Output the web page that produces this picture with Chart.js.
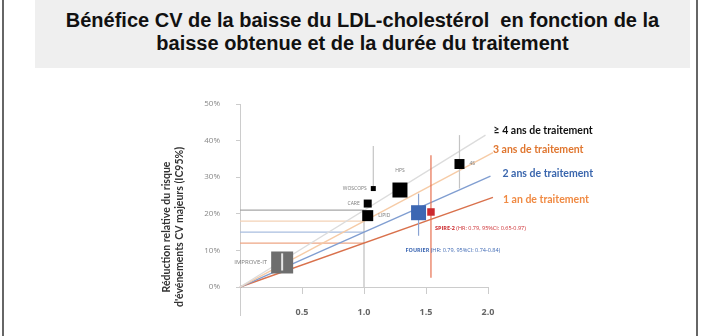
<!DOCTYPE html>
<html lang="fr">
<head>
<meta charset="UTF-8">
<title>Bénéfice CV de la baisse du LDL-cholestérol</title>
<script src="https://cdn.jsdelivr.net/npm/chart.js"></script>
<style>
  html, body { margin: 0; padding: 0; background: #fff; }
  #wrap { position: relative; width: 702px; height: 336px; overflow: hidden; }
  #frame { position: absolute; left: 2px; top: 0; width: 696px; height: 336px;
           border-left: 2px solid #666; border-right: 2px solid #666; box-sizing: border-box; }
  #title { position: absolute; left: 35px; top: 0; width: 655px; height: 68px; background: #efefef;
           font: bold 20px "Liberation Sans", Arial, sans-serif; color: #111; text-align: center;
           line-height: 23px; padding-top: 9px; box-sizing: border-box; white-space: pre; }
  #chart { position: absolute; left: 0; top: 0; }
</style>
</head>
<body>
<div id="wrap">
  <div id="frame"></div>
  <div id="title">Bénéfice CV de la baisse du LDL-cholestérol  en fonction de la
baisse obtenue et de la durée du traitement</div>
  <canvas id="chart" width="702" height="336"></canvas>
</div>

<script>
// durées de traitement : droites partant de l'origine
const durations = ['≥ 4 ans de traitement', '3 ans de traitement', '2 ans de traitement', '1 an de traitement'];
const lineEndX = [1.98, 2.04, 2.02, 2.04];
const lineEndY = [41.5, 36.7, 30.3, 24.5];
const benefitAt1 = [21, 18, 15, 12];   // réduction (%) pour une baisse de 1.0

// essais
const trials = ['IMPROVE-IT', 'WOSCOPS', 'CARE', 'LIPID', 'HPS', '4S', 'FOURIER', 'SPIRE-2'];
const trialX = [0.34, 1.075, 1.03, 1.03, 1.29, 1.77, 1.44, 1.54];
const trialY = [6.7, 26.9, 22.8, 19.5, 26.5, 33.6, 20.3, 20.5];
const ciHigh = [9.2, 38.5, null, null, null, 41.5, 25.5, 36];
const ciLow = [4.5, 27, null, null, null, 26.9, 14, 2.5];
const notes = { 'SPIRE-2': '(HR: 0.79, 95%CI: 0.65-0.97)', 'FOURIER': '(HR: 0.79, 95%CI: 0.74-0.84)' };

// axes
const xTicks = [0.5, 1.0, 1.5, 2.0];
const yTicks = [0, 10, 20, 30, 40, 50];

// styles
const lineColors = ['#dcdcdc', '#f6cba6', '#809ed1', '#d9714c'];
const refColors = ['#a6a6a6', '#f3d2b6', '#a9bedf', '#eea684'];
const labelColors = ['#111', '#e0762f', '#3a66ad', '#f08a43'];
const labelOffsets = [[8, -5], [0, -3], [12, -2], [10, 2]];
const trialSize = [22, 5, 8, 11, 15, 10, 15, 7.5];
const trialColor = ['#6e6e6e', '#000', '#000', '#000', '#000', '#000', '#3c67b3', '#cc2a2e'];
const ciColor = ['#e6e6e6', '#c4c4c4', '#c4c4c4', '#c4c4c4', '#c4c4c4', '#c4c4c4', '#8aa3d3', '#e7704f'];
const nameSide = ['left', 'left', 'left', 'right', 'above', 'right', 'below', 'below'];

const datasets = [];

durations.forEach((d, i) => {
    datasets.push({
        type: 'line', label: d,
        data: [{ x: 0, y: 0 }, { x: lineEndX[i], y: lineEndY[i] }],
        borderColor: lineColors[i], borderWidth: 1.4, pointRadius: 0, order: 20 + i
    });
    datasets.push({
        type: 'line', label: 'ref ' + d,
        data: [{ x: 0, y: benefitAt1[i] }, { x: 1, y: benefitAt1[i] }],
        borderColor: refColors[i], borderWidth: 1.1, pointRadius: 0, order: 30 + i
    });
});

datasets.push({
    type: 'line', label: 'ref 1.0',
    data: [{ x: 1, y: 0 }, { x: 1, y: benefitAt1[0] }],
    borderColor: '#b8b8b8', borderWidth: 1.1, pointRadius: 0, order: 30
});

trials.forEach((t, i) => {
    if (ciHigh[i] === null) return;
    datasets.push({
        type: 'line', label: 'IC ' + t,
        data: [{ x: trialX[i], y: ciLow[i] }, { x: trialX[i], y: ciHigh[i] }],
        borderColor: ciColor[i], borderWidth: i === 0 ? 2 : 1.2, pointRadius: 0,
        order: i === 0 ? 0 : 10
    });
});

datasets.push({
    type: 'scatter', label: 'essais',
    data: trials.map((t, i) => ({ x: trialX[i], y: trialY[i] })),
    pointStyle: 'rect',
    pointRadius: trialSize.map(s => s / Math.SQRT2),
    backgroundColor: trialColor, borderWidth: 0, order: 1
});

const labelPlugin = {
    id: 'labels',
    afterDatasetsDraw(chart) {
        const { ctx, scales: { x, y } } = chart;
        ctx.save();
        ctx.textBaseline = 'middle';

        // noms des essais
        trials.forEach((t, i) => {
            const px = x.getPixelForValue(trialX[i]);
            const py = y.getPixelForValue(trialY[i]);
            const h = trialSize[i] / 2;
            if (t === 'FOURIER' || t === 'SPIRE-2') {
                ctx.font = 'bold 5.5px "Open Sans"';
                ctx.textAlign = 'left';
                const lx = t === 'SPIRE-2' ? px + 4 : px - 13;
                const ly = t === 'SPIRE-2' ? py + 16 : py + 38;
                ctx.fillStyle = trialColor[i];
                ctx.fillText(t, lx, ly);
                const w = ctx.measureText(t + ' ').width;
                ctx.font = '5.5px "Open Sans"';
                ctx.fillText(notes[t], lx + w, ly);
                return;
            }
            ctx.fillStyle = '#7a7a7a';
            ctx.font = (i === 0 ? 6 : 5) + 'px "Open Sans"';
            if (nameSide[i] === 'left') {
                ctx.textAlign = 'right';
                ctx.fillText(t, px - h - 4, py);
            } else if (nameSide[i] === 'right') {
                ctx.textAlign = 'left';
                ctx.fillText(t, px + h + 5, py);
            } else {
                ctx.textAlign = 'center';
                ctx.fillText(t, px, py - h - 12);
            }
        });

        // durées de traitement
        ctx.textAlign = 'left';
        ctx.font = 'bold 10.5px Lato';
        durations.forEach((d, i) => {
            const px = x.getPixelForValue(lineEndX[i]) + labelOffsets[i][0];
            const py = y.getPixelForValue(lineEndY[i]) + labelOffsets[i][1];
            ctx.fillStyle = labelColors[i];
            ctx.fillText(d, px, py);
        });

        // titre de l'axe Y
        ctx.fillStyle = '#333';
        ctx.font = 'bold 10.5px Lato';
        ctx.textAlign = 'center';
        ctx.translate(174, 227);
        ctx.rotate(-Math.PI / 2);
        ctx.fillText('Réduction relative du risque', 0, -7);
        ctx.fillText("d'événements CV majeurs (IC95%)", 0, 6);
        ctx.restore();
    }
};

new Chart(document.getElementById('chart'), {
    type: 'scatter',
    data: { datasets: datasets },
    plugins: [labelPlugin],
    options: {
        responsive: false,
        animation: false,
        events: [],
        clip: false,
        layout: { padding: { left: 180, top: 104, right: 214, bottom: 0 } },
        plugins: { legend: { display: false }, tooltip: { enabled: false } },
        scales: {
            x: {
                type: 'linear', min: 0, max: 2, position: { y: 0 },
                afterBuildTicks: s => { s.ticks = [0].concat(xTicks).map(v => ({ value: v })); },
                ticks: {
                    callback: v => v === 0 ? null : v.toFixed(1),
                    color: '#666', font: { size: 9, weight: 'bold', family: 'Open Sans' },
                    padding: 14, maxRotation: 0, autoSkip: false
                },
                grid: { drawOnChartArea: false, tickLength: 6, color: '#ccc' },
                border: { color: '#ccc' }
            },
            y: {
                type: 'linear', min: -7.7, max: 50,
                afterBuildTicks: s => { s.ticks = [{ value: -7.7 }].concat(yTicks.map(v => ({ value: v }))); },
                afterFit: s => { s.width = 60; },
                ticks: {
                    callback: v => v < 0 ? null : v + '%',
                    color: '#888', font: { size: 8, family: 'Open Sans' }, padding: 16
                },
                grid: { drawOnChartArea: false, tickLength: 4, color: '#ccc' },
                border: { color: '#ccc' }
            }
        }
    }
});
</script>
</body>
</html>
